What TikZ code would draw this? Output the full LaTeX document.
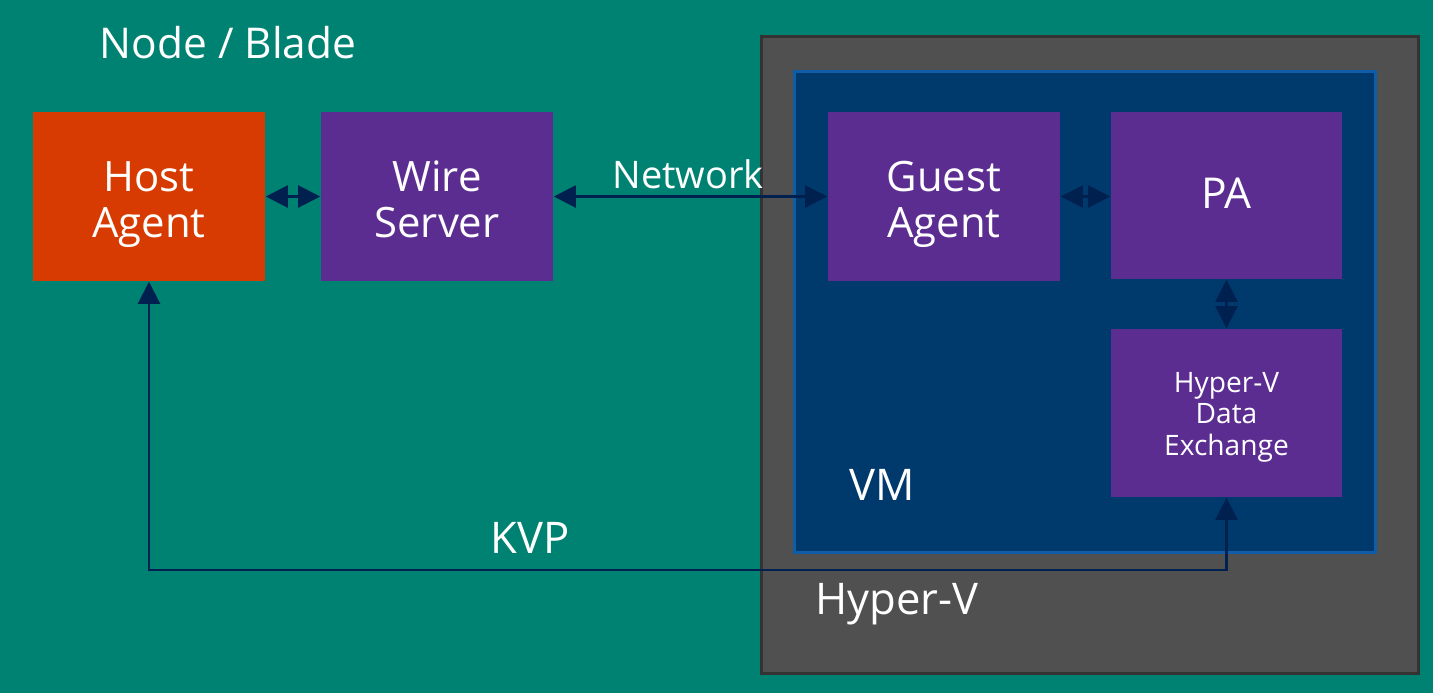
\documentclass[tikz,border=0pt]{standalone}
\usepackage{fontspec}
\setmainfont{Open Sans}
\usetikzlibrary{arrows.meta}
\definecolor{bgteal}{HTML}{008272}
\definecolor{hostorange}{HTML}{D83B01}
\definecolor{boxpurple}{HTML}{5C2D91}
\definecolor{hvgray}{HTML}{505050}
\definecolor{hvborder}{HTML}{333333}
\definecolor{vmnavy}{HTML}{003A6C}
\definecolor{vmborder}{HTML}{0F5CA8}
\definecolor{arrownavy}{HTML}{002050}
\tikzset{
  compbox/.style={rectangle, inner sep=0pt, minimum width=2.32cm, minimum height=1.69cm},
  boxtext/.style={text=white, inner sep=0pt, align=center, font=\fontsize{11.9}{13.1}\selectfont},
  lbl/.style={text=white, inner sep=0pt, font=\fontsize{12.4}{14}\selectfont},
  dbl/.style={draw=arrownavy, line width=0.6pt, {Triangle[length=0.22cm,width=0.22cm]}-{Triangle[length=0.22cm,width=0.22cm]}},
}
\begin{document}
\begin{tikzpicture}[x=0.01cm,y=-0.01cm]
\fill[bgteal] (0,0) rectangle (1433,693);
\useasboundingbox (0,0) rectangle (1433,693);
% Hyper-V outer
\node[rectangle, inner sep=0pt, fill=hvgray, draw=hvborder, line width=0.9pt,
  minimum width=6.56cm, minimum height=6.36cm] (hyperv) at (1090,355) {};
% VM
\node[rectangle, inner sep=0pt, fill=vmnavy, draw=vmborder, line width=0.9pt,
  minimum width=5.80cm, minimum height=4.80cm] (vm) at (1085,312) {};
% boxes
\node[compbox, fill=hostorange] (host) at (149,196.5) {};
\node[compbox, fill=boxpurple] (wire) at (437,196.5) {};
\node[compbox, fill=boxpurple] (guest) at (944,196.5) {};
\node[compbox, fill=boxpurple, minimum width=2.31cm, minimum height=1.67cm] (pa) at (1226.5,195.5) {};
\node[compbox, fill=boxpurple, minimum width=2.31cm, minimum height=1.68cm] (de) at (1226.5,413) {};
% box texts
\node[boxtext] (hosttext) at (149,204.5) {Host\\Agent};
\node[boxtext] (wiretext) at (437,199.5) {Wire\\Server};
\node[boxtext] (guesttext) at (944,204.5) {Guest\\Agent};
\node[boxtext, font=\fontsize{12.1}{14}\selectfont] (patext) at (1226.5,193) {PA};
\node[boxtext, font=\fontsize{8}{8.96}\selectfont] (detext) at (1226.5,417) {Hyper-V\\Data\\Exchange};
% labels
\node[lbl, font=\fontsize{12.06}{14}\selectfont] (nodeblade) at (228,43) {Node / Blade};
\node[lbl, font=\fontsize{10.8}{13}\selectfont] (network) at (688,174) {Network};
\node[lbl] (vmlbl) at (882,485) {VM};
\node[lbl] (kvp) at (530,538) {KVP};
\node[lbl] (hvlbl) at (897,604) {Hyper-V};
% connectors
\coordinate (kvpcorner) at (149,570);
\draw[dbl] (host.east) -- (wire.west);
\draw[dbl] (wire.east) -- (guest.west);
\draw[dbl] (guest.east) -- (guest.east -| pa.west);
\draw[dbl] (pa.south) -- (de.north);
\draw[dbl] (de.south) |- (kvpcorner) -- (host.south);
\end{tikzpicture}
\end{document}
